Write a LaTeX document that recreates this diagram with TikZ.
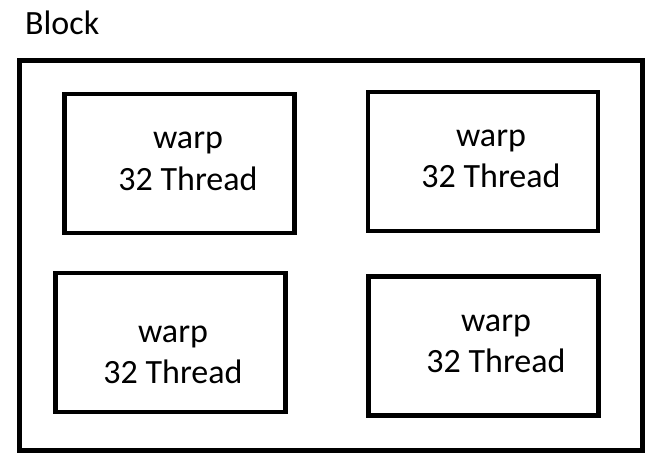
\documentclass[tikz,border=0pt]{standalone}
\usepackage{fontspec}
\setmainfont{Carlito}

\begin{document}
\begin{tikzpicture}[x=1pt, y=-1pt,
    every node/.style={font=\fontsize{34}{41.5}\selectfont},
    blockbox/.style={rectangle, draw, line width=4.5pt, minimum width=623pt, minimum height=390pt, inner sep=0pt},
    warpbox/.style={rectangle, draw, line width=4.5pt, minimum width=230pt, minimum height=139pt, inner sep=0pt},
    warplabel/.style={align=center, inner sep=0pt}
]
    \useasboundingbox (0,0) rectangle (658,468);
    \node[anchor=base west, inner sep=0pt] (title) at (25,35) {Block};
    \node[blockbox] (block) at (331,255.5) {};
    % the four warps
    \node[warpbox] (warpA) at (179.5,163.5) {};
    \node[warpbox] (warpB) at (483,161.5) {};
    \node[warpbox] (warpC) at (170.5,342.5) {};
    \node[warpbox] (warpD) at (483.5,346) {};
    \node[warplabel] (labelA) at (188,161) {\strut warp\\\strut 32 Thread};
    \node[warplabel] (labelB) at (491,158.5) {\strut warp\\\strut 32 Thread};
    \node[warplabel] (labelC) at (173,354.5) {\strut warp\\\strut 32 Thread};
    \node[warplabel] (labelD) at (496,343.5) {\strut warp\\\strut 32 Thread};
\end{tikzpicture}
\end{document}
